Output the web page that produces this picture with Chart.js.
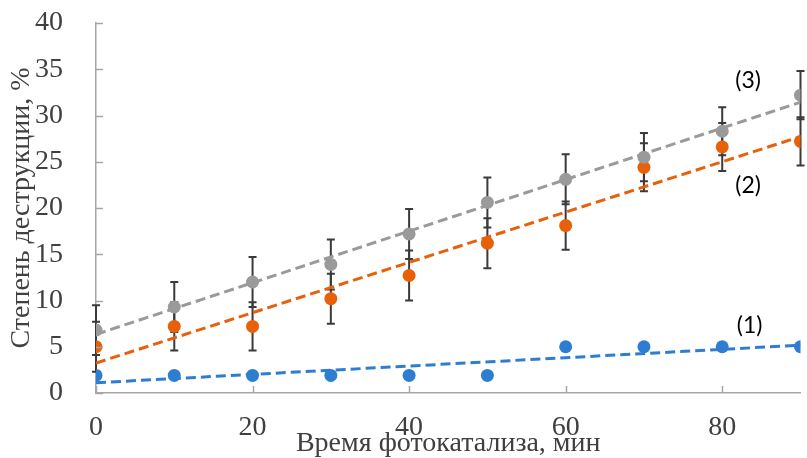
<!DOCTYPE html>
<html>
<head>
<meta charset="utf-8">
<script src="https://cdn.jsdelivr.net/npm/chart.js@4/dist/chart.umd.min.js"></script>
<style>
html,body{margin:0;padding:0;background:#fff;}
#wrap{width:807px;height:458px;position:relative;}
</style>
</head>
<body>
<div id="wrap"><canvas id="c" width="807" height="458"></canvas></div>
<script>
// ---- data ----
const times = [0, 10, 20, 30, 40, 50, 60, 70, 80, 90];           // min
const series1 = [1.9, 1.9, 1.9, 1.9, 1.9, 1.9, 5.0, 5.0, 5.0, 5.0];  // (1) blue
const series2 = [5.0, 7.2, 7.2, 10.2, 12.7, 16.2, 18.1, 24.4, 26.6, 27.2]; // (2) orange
const series3 = [6.8, 9.3, 12.0, 13.9, 17.2, 20.6, 23.1, 25.5, 28.3, 32.2]; // (3) gray
const err2 = [2.7, 2.6, 2.6, 2.7, 2.7, 2.7, 2.6, 2.6, 2.6, 2.6];
const err3 = [2.7, 2.7, 2.7, 2.7, 2.7, 2.7, 2.7, 2.6, 2.6, 2.6];
const xTicks = [0, 20, 40, 60, 80];
const yTicks = [0, 5, 10, 15, 20, 25, 30, 35, 40];
const seriesLabels = ['(1)', '(2)', '(3)'];
const xTitle = 'Время фотокатализа, мин';
const yTitle = 'Степень деструкции, %';

const C_BLUE = '#2E7DD1', C_ORANGE = '#E8600A', C_GRAY = '#9A9A9A';

function pts(ys){ return times.map((t,i)=>({x:t, y:ys[i]})); }
// linear least-squares trendline (as in the source spreadsheet)
function trend(ys){
  const n = times.length;
  const mx = times.reduce((a,b)=>a+b,0)/n, my = ys.reduce((a,b)=>a+b,0)/n;
  let sxy=0, sxx=0;
  times.forEach((t,i)=>{ sxy += (t-mx)*(ys[i]-my); sxx += (t-mx)*(t-mx); });
  const k = sxy/sxx, b = my - k*mx;
  const x0 = times[0], x1 = times[n-1];
  return [{x:x0, y:b+k*x0}, {x:x1, y:b+k*x1}];
}

const trendStyle = (c)=>({type:'line', borderColor:c, borderWidth:3, borderDash:[10,5],
  pointRadius:0, fill:false, tension:0});
const dotStyle = (c)=>({type:'scatter', backgroundColor:c, borderColor:c, pointRadius:6.5,
  pointHoverRadius:6.5, borderWidth:0});

const errorBars = {
  id:'errorBars',
  beforeDatasetsDraw(chart){
    const ctx = chart.ctx, xs = chart.scales.x, ys = chart.scales.y;
    ctx.save();
    ctx.strokeStyle = '#3A3A3A'; ctx.lineWidth = 2;
    [[series2, err2],[series3, err3]].forEach(([vals, errs])=>{
      vals.forEach((v,i)=>{
        const px = xs.getPixelForValue(times[i]);
        const top = ys.getPixelForValue(v+errs[i]), bot = ys.getPixelForValue(Math.max(0,v-errs[i]));
        ctx.beginPath();
        ctx.moveTo(px, top); ctx.lineTo(px, bot);
        ctx.moveTo(px-4, top); ctx.lineTo(px+4, top);
        ctx.moveTo(px-4, bot); ctx.lineTo(px+4, bot);
        ctx.stroke();
      });
    });
    ctx.restore();
  },
  afterDraw(chart){
    const ctx = chart.ctx, xs = chart.scales.x, ys = chart.scales.y;
    ctx.save();
    // inward tick marks
    ctx.strokeStyle = '#A6A6A6'; ctx.lineWidth = 1.5;
    ctx.beginPath();
    xTicks.forEach(v=>{ const px = Math.round(xs.getPixelForValue(v))+0.5;
      ctx.moveTo(px, ys.bottom); ctx.lineTo(px, ys.bottom-7); });
    yTicks.forEach(v=>{ const py = Math.round(ys.getPixelForValue(v))+0.5;
      ctx.moveTo(xs.left, py); ctx.lineTo(xs.left+7, py); });
    ctx.stroke();
    // series labels
    ctx.fillStyle = '#000';
    ctx.font = '23px Lato, "Open Sans", sans-serif';
    ctx.textAlign = 'center'; ctx.textBaseline = 'middle';
    const lp = [[83.5, 7.3],[83.3, 22.4],[83.3, 33.8]];
    seriesLabels.forEach((s,i)=>{
      ctx.fillText(s, xs.getPixelForValue(lp[i][0]), ys.getPixelForValue(lp[i][1]));
    });
    ctx.restore();
  }
};

new Chart(document.getElementById('c'), {
  data:{
    datasets:[
      Object.assign({data:trend(series1), order:5}, trendStyle(C_BLUE)),
      Object.assign({data:trend(series2), order:4}, trendStyle(C_ORANGE)),
      Object.assign({data:trend(series3), order:3}, trendStyle(C_GRAY)),
      Object.assign({data:pts(series1), order:2}, dotStyle(C_BLUE)),
      Object.assign({data:pts(series2), order:1}, dotStyle(C_ORANGE)),
      Object.assign({data:pts(series3), order:0}, dotStyle(C_GRAY)),
    ]
  },
  options:{
    responsive:false, animation:false,
    layout:{padding:{top:23, right:5, left:0, bottom:0}},
    plugins:{legend:{display:false}, tooltip:{enabled:false}},
    scales:{
      x:{type:'linear', min:0, max:90,
        afterBuildTicks(s){ s.ticks = xTicks.map(v=>({value:v})); },
        afterFit(s){ s.height = 65; s.paddingLeft = 0; s.paddingRight = 0; },
        grid:{display:false},
        border:{display:true, color:'#A6A6A6', width:1.5},
        ticks:{color:'#404040', padding:10, maxRotation:0,
          font:{family:'"Liberation Serif", "Times New Roman", serif', size:28}},
        title:{display:true, text:xTitle, color:'#404040', padding:{top:0,bottom:-2},
          font:{family:'"Liberation Serif", "Times New Roman", serif', size:28}}
      },
      y:{type:'linear', min:0, max:40,
        afterBuildTicks(s){ s.ticks = yTicks.map(v=>({value:v})); },
        afterFit(s){ s.width = 96; s.paddingTop = 0; s.paddingBottom = 0; },
        grid:{display:false},
        border:{display:true, color:'#A6A6A6', width:1.5},
        ticks:{color:'#404040', padding:25,
          font:{family:'"Liberation Serif", "Times New Roman", serif', size:28}},
        title:{display:true, text:yTitle, color:'#404040', padding:{top:5,bottom:0},
          font:{family:'"Liberation Serif", "Times New Roman", serif', size:28}}
      }
    }
  },
  plugins:[errorBars]
});
</script>
</body>
</html>
